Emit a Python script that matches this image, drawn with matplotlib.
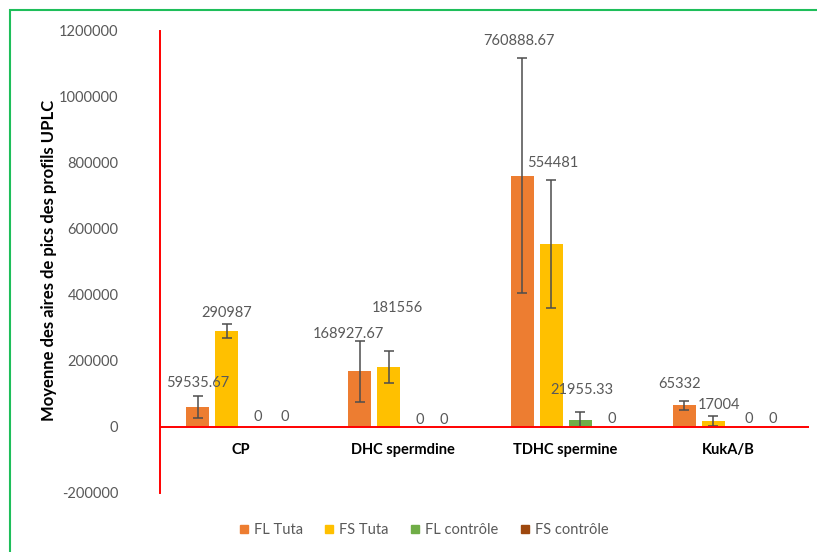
import numpy as np
import matplotlib
matplotlib.use('Agg')
import matplotlib.pyplot as plt
from matplotlib.patches import Rectangle
from matplotlib.lines import Line2D

# data
categories = ['CP', 'DHC spermdine', 'TDHC spermine', 'KukA/B']
series = ['FL Tuta', 'FS Tuta', 'FL contrôle', 'FS contrôle']
fl_tuta = [59535.67, 168927.67, 760888.67, 65332]
fs_tuta = [290987, 181556, 554481, 17004]
fl_ctrl = [0, 0, 21955.33, 0]
fs_ctrl = [0, 0, 0, 0]
err_fl_tuta = [33000, 92000, 356000, 13000]
err_fs_tuta = [21000, 49000, 195000, 15000]
err_fl_ctrl = [0, 0, 22000, 0]
err_fs_ctrl = [0, 0, 0, 0]
yticks = [-200000, 0, 200000, 400000, 600000, 800000, 1000000, 1200000]

values = [fl_tuta, fs_tuta, fl_ctrl, fs_ctrl]
errors = [err_fl_tuta, err_fs_tuta, err_fl_ctrl, err_fs_ctrl]
colors = ['#ED7D31', '#FFC000', '#70AD47', '#9E480E']

# label nudges in pixels (dx, dy) per series / category, as placed in the original
label_shift = [
    [(0, 24), (-11, 37), (-3, 135), (-5, 21)],
    [(0, 18), (9, 59), (2, 81), (6, 16)],
    [(2, 10), (2, 7), (2, 30), (6, 8)],
    [(0, 10), (-3, 7), (3, 8), (1, 8)],
]

plt.rcParams['font.family'] = ['Lato', 'DejaVu Sans']
gray = '#595959'

fig = plt.figure(figsize=(8.17, 5.52), dpi=100)
ax = fig.add_axes([160 / 817, 1 - 493 / 552, (809 - 160) / 817, (493 - 31) / 552])

x = np.arange(len(categories))
step = 0.179
width = 0.142

for i, (vals, errs, c) in enumerate(zip(values, errors, colors)):
    pos = x + (i - 1.5) * step
    ax.bar(pos, vals, width, color=c, zorder=2)
    e = np.array(errs)
    m = e > 0
    if m.any():
        ax.errorbar(pos[m], np.array(vals)[m], yerr=e[m], fmt='none',
                    ecolor='#4d4d4d', elinewidth=1.1, capsize=3.5, capthick=1.1, zorder=3)
    for j, v in enumerate(vals):
        txt = f'{v:.2f}'.rstrip('0').rstrip('.')
        dx, dy = label_shift[i][j]
        ax.annotate(txt, (pos[j], v), xytext=(dx, dy), textcoords='offset pixels',
                    ha='center', va='center', fontsize=10.5, color=gray, zorder=4)

ax.axhline(0, color='red', lw=1.4, zorder=5)
ax.set_xlim(-0.5, 3.5)
ax.set_ylim(-200000, 1200000)
ax.set_yticks(yticks)
ax.set_yticklabels([str(t) for t in yticks], fontsize=10.5, color=gray)
ax.tick_params(axis='y', length=0, pad=30)
ax.set_xticks([])
for s in ['top', 'right', 'bottom']:
    ax.spines[s].set_visible(False)
ax.spines['left'].set_color('red')
ax.spines['left'].set_linewidth(1.4)

for xi, name in zip(x, categories):
    ax.annotate(name, (xi, 0), xytext=(0, -23), textcoords='offset pixels',
                ha='center', va='center', fontsize=10.5, fontweight='bold', color='black')

fig.text(49 / 817, 1 - 260 / 552, 'Moyenne des aires de pics des profils UPLC', rotation=90,
         ha='center', va='center', fontsize=12, fontweight='bold')

handles = [Line2D([], [], marker='s', linestyle='none', markersize=6, color=c) for c in colors]
fig.legend(handles, series, loc='center', bbox_to_anchor=(0.519, 0.04), ncol=4, frameon=False,
           fontsize=10.5, labelcolor=gray, handlelength=0.6, handletextpad=0.4, columnspacing=1.5)

fig.add_artist(Rectangle((10 / 817, -0.05), 1.2, 1 - 10 / 552 + 0.05, transform=fig.transFigure,
                         fill=False, edgecolor='#1EBE5A', lw=1.5))

fig.savefig('out.png', dpi=100)
